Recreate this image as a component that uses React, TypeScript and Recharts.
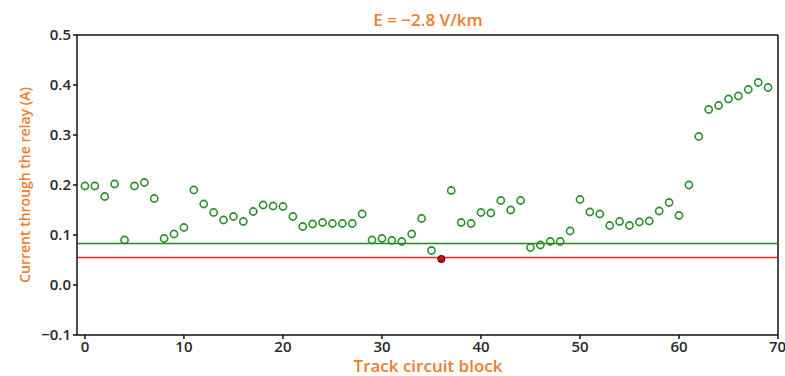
import { ComposedChart, Scatter, XAxis, YAxis, ReferenceLine, Customized } from 'recharts'

const blocks = Array.from({ length: 70 }, (_, i) => i)
const current = [
  0.198, 0.198, 0.177, 0.202, 0.09, 0.198, 0.205, 0.173, 0.093, 0.102,
  0.115, 0.19, 0.162, 0.145, 0.13, 0.137, 0.127, 0.147, 0.16, 0.158,
  0.157, 0.137, 0.117, 0.122, 0.125, 0.123, 0.123, 0.123, 0.142, 0.09,
  0.093, 0.089, 0.087, 0.102, 0.133, 0.069, 0.052, 0.189, 0.125, 0.123,
  0.145, 0.144, 0.169, 0.15, 0.169, 0.075, 0.08, 0.087, 0.087, 0.108,
  0.171, 0.146, 0.142, 0.119, 0.127, 0.119, 0.126, 0.128, 0.148, 0.165,
  0.139, 0.2, 0.297, 0.351, 0.359, 0.372, 0.378, 0.391, 0.405, 0.395,
]
const failedBlock = 36
const pickupLevel = 0.083
const dropLevel = 0.055
const xTicks = [0, 10, 20, 30, 40, 50, 60, 70]
const yTicks = [-0.1, 0, 0.1, 0.2, 0.3, 0.4, 0.5]

const orange = '#f07c2a'
const font = '"Open Sans", sans-serif'

const okPoints = blocks.filter((b) => b !== failedBlock).map((b) => ({ block: b, current: current[b] }))
const failPoints = [{ block: failedBlock, current: current[failedBlock] }]

const fmtY = (v: number) => (v < 0 ? '\u2212' + Math.abs(v).toFixed(1) : v.toFixed(1))
const tickStyle = { fill: '#2a2a2a', fontSize: 15, fontFamily: font, fontWeight: 600 }

export default function App() {
  return (
    <div style={{ position: 'absolute', left: 0, top: 0, fontFamily: font }}>
      <ComposedChart width={785} height={376} margin={{ top: 35, right: 7, bottom: 0, left: 0 }}>
        <XAxis
          dataKey="block"
          type="number"
          domain={[-0.8, 70]}
          ticks={xTicks}
          allowDataOverflow
          height={41}
          tickSize={4}
          stroke="#111"
          strokeWidth={1.5}
          tick={tickStyle}
        />
        <YAxis
          dataKey="current"
          type="number"
          domain={[-0.1, 0.5]}
          ticks={yTicks}
          width={77}
          tickSize={4}
          stroke="#111"
          strokeWidth={1.5}
          tickFormatter={fmtY}
          tick={tickStyle}
        />
        <ReferenceLine y={0.5} stroke="#111" strokeWidth={1.5} />
        <ReferenceLine x={70} stroke="#111" strokeWidth={1.5} />
        <ReferenceLine y={pickupLevel} stroke="#1e8c1e" strokeWidth={1.5} />
        <ReferenceLine y={dropLevel} stroke="#f02020" strokeWidth={1.5} />
        <Scatter
          data={okPoints}
          isAnimationActive={false}
          shape={(p: any) => <circle cx={p.cx} cy={p.cy} r={3.6} fill="none" stroke="#2a8f2a" strokeWidth={1.6} />}
        />
        <Scatter
          data={failPoints}
          isAnimationActive={false}
          shape={(p: any) => <circle cx={p.cx} cy={p.cy} r={3.6} fill="#d01010" stroke="#400" strokeWidth={1} />}
        />
        <Customized
          component={() => (
            <g fontFamily={font} fill={orange} fontWeight={600}>
              <text x={428} y={26} textAnchor="middle" fontSize={17}>E = {'\u2212'}2.8 V/km</text>
              <text x={428} y={372} textAnchor="middle" fontSize={17}>Track circuit block</text>
              <text x={24} y={185} textAnchor="middle" dominantBaseline="central" fontSize={14} transform="rotate(-90 24 185)">
                Current through the relay (A)
              </text>
            </g>
          )}
        />
      </ComposedChart>
    </div>
  )
}
